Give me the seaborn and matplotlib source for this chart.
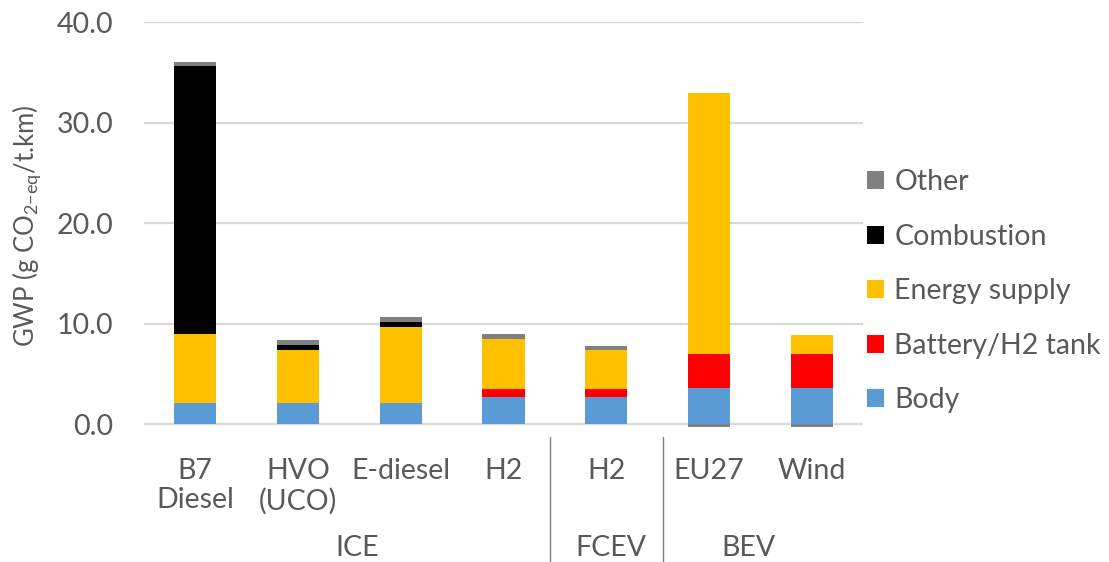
import numpy as np
import pandas as pd
import matplotlib
matplotlib.use("Agg")
import matplotlib.pyplot as plt
import matplotlib.transforms as mtrans
from matplotlib.patches import Patch
import seaborn as sns

# --- data (g CO2-eq / t.km) ---
keys = ["B7", "HVO", "E-diesel", "H2 ICE", "H2 FCEV", "EU27", "Wind"]
tick_labels = ["B7\nDiesel", "HVO\n(UCO)", "E-diesel", "H2", "H2", "EU27", "Wind"]
groups = ["ICE", "FCEV", "BEV"]

body = [2.1, 2.1, 2.1, 2.7, 2.7, 3.6, 3.6]
battery = [0.0, 0.0, 0.0, 0.8, 0.8, 3.45, 3.45]
energy = [6.9, 5.35, 7.55, 5.0, 3.95, 25.9, 1.9]
combustion = [26.7, 0.5, 0.5, 0.0, 0.0, 0.0, 0.0]
other = [0.35, 0.5, 0.55, 0.5, 0.4, -0.3, -0.3]

components = ["Body", "Battery/H2 tank", "Energy supply", "Combustion", "Other"]
colors = ["#5B9BD5", "#FF0000", "#FFC000", "#000000", "#808080"]

df = pd.DataFrame({"tech": keys, "Body": body, "Battery/H2 tank": battery,
                   "Energy supply": energy, "Combustion": combustion, "Other": other})

sns.set_theme(style="white")
plt.rcParams["font.family"] = ["Lato", "DejaVu Sans"]
plt.rcParams["mathtext.fontset"] = "custom"
plt.rcParams["mathtext.rm"] = "Lato"
plt.rcParams["mathtext.it"] = "Lato"
txt = "#595959"

fig = plt.figure(figsize=(11.09, 5.62), dpi=100)
ax = fig.add_axes([0.1298, 0.2367, 0.6484, 0.7233])

# stacked bars, negatives start from zero (Excel style)
pos_base = np.zeros(len(keys))
for comp, col in zip(components, colors):
    vals = df[comp].to_numpy()
    bottom = np.where(vals >= 0, pos_base, 0.0)
    sns.barplot(x=df["tech"], y=vals, order=keys, bottom=bottom, color=col,
                saturation=1, width=0.41, linewidth=0, errorbar=None, ax=ax,
                zorder=3)
    pos_base = pos_base + np.clip(vals, 0, None)

ax.set_ylim(-0.45, 40)
ax.set_xlim(-0.5, len(keys) - 0.5)
ax.set_yticks([0, 10, 20, 30, 40])
ax.set_yticklabels([f"{v:.1f}" for v in [0, 10, 20, 30, 40]])
ax.yaxis.grid(False)
for v in [0, 10, 20, 30, 40]:
    ax.axhline(v, color="#d9d9d9", lw=1.6, zorder=1)
for s in ax.spines.values():
    s.set_visible(False)

ax.set_xticks(range(len(keys)))
ax.set_xticklabels(tick_labels, linespacing=1.15)
ax.tick_params(axis="both", length=0, labelsize=20.5, labelcolor=txt)
ax.tick_params(axis="x", pad=21)
ax.tick_params(axis="y", pad=22)
ax.set_xlabel("")
ax.set_ylabel(r"GWP (g CO$_{2\mathrm{-eq}}$/t.km)", fontsize=18.5, color=txt, labelpad=10)

# multi-level category axis
blend = mtrans.blended_transform_factory(ax.transData, fig.transFigure)
for xs in [3.45, 4.55]:
    ax.plot([xs, xs], [1 - 437 / 562, 0], color="#7f7f7f", lw=1,
            transform=blend, clip_on=False)
for g, gx in zip(groups, [1.58, 4.05, 5.38]):
    ax.text(gx, 1 - 548 / 562, g, transform=blend, ha="center", va="center",
            fontsize=20.5, color=txt)

handles = [Patch(facecolor=c, edgecolor="none") for c in colors]
leg = fig.legend(handles[::-1], components[::-1], loc="center left",
                 bbox_to_anchor=(0.759, 0.482), frameon=False, fontsize=20.5,
                 handlelength=0.6, handleheight=0.6, handletextpad=0.35,
                 labelspacing=1.0)
for t in leg.get_texts():
    t.set_color(txt)

fig.savefig("out.png", dpi=100)
